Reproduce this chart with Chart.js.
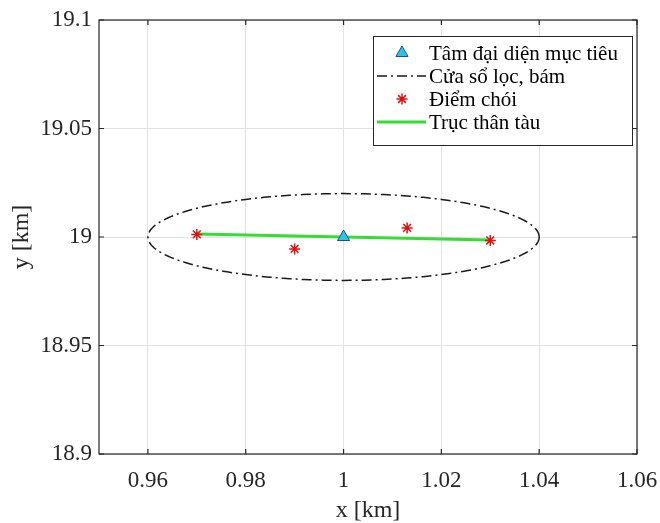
<!DOCTYPE html>
<html>
<head>
<meta charset="utf-8">
<script src="https://cdn.jsdelivr.net/npm/chart.js@4.4.0/dist/chart.umd.min.js"></script>
<style>
  html, body { margin: 0; padding: 0; background: #fff; }
  #wrap { width: 660px; height: 523px; }
</style>
</head>
<body>
<div id="wrap"><canvas id="chart" width="660" height="523"></canvas></div>
<script>
// tâm đại diện mục tiêu
var centerX = [1.0]
var centerY = [19.0]

// các điểm chói
var glintX = [0.97, 0.99, 1.013, 1.03]
var glintY = [19.0012, 18.9945, 19.0042, 18.9984]

// trục thân tàu
var hullX = [0.97, 1.03]
var hullY = [19.0014, 18.9986]

// cửa sổ lọc, bám: ellipse (tâm, bán trục)
var gateCenter = [1.0, 19.0]
var gateRadii = [0.04, 0.02]

var xTicks = [0.96, 0.98, 1, 1.02, 1.04, 1.06]
var yTicks = [18.9, 18.95, 19, 19.05, 19.1]
var seriesNames = ["Tâm đại diện mục tiêu", "Cửa sổ lọc, bám", "Điểm chói", "Trục thân tàu"]

var FONT = "'Liberation Serif', 'Times New Roman', serif"
var INK = '#262626'

function toPoints(xs, ys){
    return xs.map(function(x, i){ return {x: x, y: ys[i]} })
}

function gateOutline(){
    let pts = []
    let n = 180
    for (let i = 0; i <= n; i++){
        let t = 2 * Math.PI * i / n
        pts.push({
            x: gateCenter[0] + gateRadii[0] * Math.cos(t),
            y: gateCenter[1] + gateRadii[1] * Math.sin(t)
        })
    }
    return pts
}

function drawMarker(ctx, style, r, x, y){
    ctx.beginPath()
    if (style == 'triangle'){
        for (let k = 0; k < 3; k++){
            let a = -Math.PI / 2 + k * 2 * Math.PI / 3
            let px = x + r * Math.cos(a), py = y + r * Math.sin(a)
            if (k == 0) ctx.moveTo(px, py)
            else ctx.lineTo(px, py)
        }
        ctx.closePath()
        ctx.fill()
        ctx.stroke()
    }
    else if (style == 'star'){
        for (let k = 0; k < 4; k++){
            let a = k * Math.PI / 4
            ctx.moveTo(x - r * Math.cos(a), y - r * Math.sin(a))
            ctx.lineTo(x + r * Math.cos(a), y + r * Math.sin(a))
        }
        ctx.stroke()
    }
}

// khung trục, vạch chia kiểu MATLAB và chú thích
var framePlugin = {
    id: 'frame',
    afterDraw: function(chart){
        let ctx = chart.ctx
        let a = chart.chartArea
        let xs = chart.scales.x, ys = chart.scales.y
        ctx.save()
        ctx.strokeStyle = INK
        ctx.lineWidth = 1.2
        ctx.setLineDash([])
        ctx.strokeRect(a.left, a.top, a.right - a.left, a.bottom - a.top)

        let tl = 5
        ctx.beginPath()
        xTicks.forEach(function(v){
            let px = xs.getPixelForValue(v)
            ctx.moveTo(px, a.bottom); ctx.lineTo(px, a.bottom - tl)
            ctx.moveTo(px, a.top); ctx.lineTo(px, a.top + tl)
        })
        yTicks.forEach(function(v){
            let py = ys.getPixelForValue(v)
            ctx.moveTo(a.left, py); ctx.lineTo(a.left + tl, py)
            ctx.moveTo(a.right, py); ctx.lineTo(a.right - tl, py)
        })
        ctx.stroke()

        // chú thích
        let bx = 373, by = 36, bw = 259, bh = 109
        let rowH = 23, firstRow = 53
        ctx.fillStyle = '#fff'
        ctx.fillRect(bx, by, bw, bh)
        ctx.strokeStyle = INK
        ctx.lineWidth = 1
        ctx.strokeRect(bx + 0.5, by + 0.5, bw, bh)

        ctx.font = "21px " + FONT
        ctx.textBaseline = 'middle'
        ctx.textAlign = 'left'
        chart.data.datasets.forEach(function(ds, i){
            let y = firstRow + i * rowH
            if (ds.showLine){
                ctx.beginPath()
                ctx.strokeStyle = ds.borderColor
                ctx.lineWidth = ds.borderWidth
                ctx.setLineDash(ds.borderDash || [])
                ctx.moveTo(bx + 4, y)
                ctx.lineTo(bx + 53, y)
                ctx.stroke()
                ctx.setLineDash([])
            }
            if (ds.pointRadius > 0){
                ctx.fillStyle = ds.pointBackgroundColor
                ctx.strokeStyle = ds.pointBorderColor
                ctx.lineWidth = ds.pointBorderWidth
                drawMarker(ctx, ds.pointStyle, ds.pointRadius, bx + 29, y)
            }
            ctx.fillStyle = '#000'
            ctx.fillText(ds.label, bx + 56, y + 1)
        })
        ctx.restore()
    }
}

var ctx = document.getElementById("chart")

var chart = new Chart(ctx, {
    type: 'scatter',
    data: {
        datasets: [
            {
                label: seriesNames[0],
                data: toPoints(centerX, centerY),
                showLine: false,
                pointStyle: 'triangle',
                pointRadius: 7,
                pointBackgroundColor: '#2fc4e4',
                pointBorderColor: '#1b4f9c',
                pointBorderWidth: 1
            },
            {
                label: seriesNames[1],
                data: gateOutline(),
                showLine: true,
                borderColor: '#1a1a1a',
                borderWidth: 1.5,
                borderDash: [10, 4, 2, 4],
                pointRadius: 0,
                tension: 0
            },
            {
                label: seriesNames[2],
                data: toPoints(glintX, glintY),
                showLine: false,
                pointStyle: 'star',
                pointRadius: 5.5,
                pointBackgroundColor: '#e01010',
                pointBorderColor: '#e01010',
                pointBorderWidth: 1.5
            },
            {
                label: seriesNames[3],
                data: toPoints(hullX, hullY),
                showLine: true,
                borderColor: '#33dd33',
                borderWidth: 3,
                pointRadius: 0
            }
        ]
    },
    options: {
        responsive: false,
        animation: false,
        events: [],
        layout: { padding: { top: 20, right: 23, left: 0, bottom: 0 } },
        plugins: {
            legend: { display: false },
            tooltip: { enabled: false }
        },
        scales: {
            x: {
                type: 'linear',
                min: 0.95,
                max: 1.06,
                afterBuildTicks: function(s){ s.ticks = xTicks.map(function(v){ return {value: v} }) },
                afterFit: function(s){
                    s.height = 69
                    s.paddingLeft = 0
                    s.paddingRight = 0
                },
                grid: { color: '#e2e2e2', drawTicks: false },
                border: { display: false },
                ticks: {
                    callback: function(v){ return String(v) },
                    font: { family: FONT, size: 23 },
                    color: INK,
                    padding: 13,
                    maxRotation: 0,
                    autoSkip: false
                },
                title: {
                    display: true,
                    text: 'x [km]',
                    font: { family: FONT, size: 24 },
                    color: INK,
                    padding: { top: 0, bottom: -2 }
                }
            },
            y: {
                type: 'linear',
                min: 18.9,
                max: 19.1,
                afterBuildTicks: function(s){ s.ticks = yTicks.map(function(v){ return {value: v} }) },
                afterFit: function(s){
                    s.width = 99
                    s.paddingTop = 0
                    s.paddingBottom = 0
                },
                grid: { color: '#e2e2e2', drawTicks: false },
                border: { display: false },
                ticks: {
                    callback: function(v){ return String(v) },
                    font: { family: FONT, size: 23 },
                    color: INK,
                    padding: 7,
                    autoSkip: false
                },
                title: {
                    display: true,
                    text: 'y [km]',
                    font: { family: FONT, size: 24 },
                    color: INK,
                    padding: { top: 7, bottom: 0 }
                }
            }
        }
    },
    plugins: [framePlugin]
})
</script>
</body>
</html>
